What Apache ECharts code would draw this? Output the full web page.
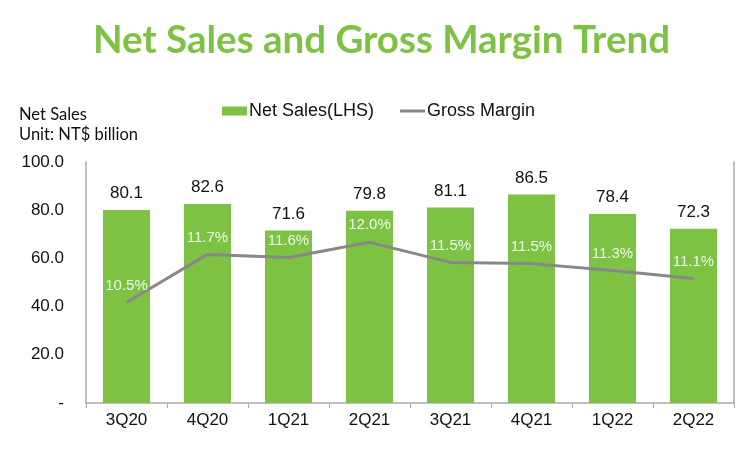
<!DOCTYPE html>
<html>
<head>
<meta charset="utf-8">
<script src="https://cdn.jsdelivr.net/npm/echarts@6/dist/echarts.min.js"></script>
<style>html,body{margin:0;padding:0;background:#fff}#c{width:750px;height:449px}</style>
</head>
<body>
<div id="c"></div>
<script>
const categories = ['3Q20','4Q20','1Q21','2Q21','3Q21','4Q21','1Q22','2Q22'];
const netSales = [80.1, 82.6, 71.6, 79.8, 81.1, 86.5, 78.4, 72.3];
const grossMargin = [10.5, 11.7, 11.62, 12.0, 11.5, 11.47, 11.3, 11.1];
const leftTicks = [0, 20, 40, 60, 80, 100];

const chart = echarts.init(document.getElementById('c'), null, {renderer: 'canvas'});
chart.setOption({
  animation: false,
  backgroundColor: '#fff',
  title: [{
    text: 'Net Sales and Gross Margin Trend',
    left: 88, top: 16,
    textStyle: {fontFamily: 'Lato', fontWeight: 'bold', fontSize: 38.5, color: '#7DC242'}
  }, {
    text: 'Net Sales\nUnit: NT$ billion',
    left: 14, top: 100,
    textStyle: {fontFamily: 'Lato', fontWeight: 'normal', fontSize: 16.5, lineHeight: 20, color: '#111'}
  }],
  legend: {
    top: 97, left: 217,
    itemGap: 26, itemWidth: 25, itemHeight: 9,
    textStyle: {fontFamily: 'Liberation Sans', fontSize: 18, color: '#111', padding: [0,0,0,-3]},
    data: [{name: 'Net Sales(LHS)', icon: 'rect'},
           {name: 'Gross Margin', icon: 'path://M0,0 L25,0 L25,3 L0,3 Z', itemStyle: {color: '#888'}}]
  },
  grid: {left: 86, right: 16, top: 162, bottom: 46},
  xAxis: {
    type: 'category', data: categories,
    axisLine: {lineStyle: {color: '#aaa', width: 1.5}},
    axisTick: {show: true, length: 5, lineStyle: {color: '#aaa'}},
    axisLabel: {fontFamily: 'Liberation Sans', fontSize: 17, color: '#111', margin: 9}
  },
  yAxis: [{
    type: 'value', min: 0, max: 100, interval: 20,
    axisLine: {show: true, lineStyle: {color: '#aaa', width: 1.5}},
    axisTick: {show: false},
    splitLine: {show: false},
    axisLabel: {fontFamily: 'Liberation Sans', fontSize: 17, color: '#111', margin: 22,
      formatter: v => v === 0 ? '-' : v.toFixed(1)}
  }, {
    type: 'value', min: 8, max: 14, interval: 1,
    axisLine: {show: true, lineStyle: {color: '#aaa', width: 1.5}},
    axisTick: {show: false}, axisLabel: {show: false}, splitLine: {show: false}
  }],
  series: [{
    name: 'Net Sales(LHS)', type: 'bar', data: netSales,
    barWidth: '58%',
    itemStyle: {color: '#7DC242'},
    label: {show: true, position: 'top', distance: 8, fontFamily: 'Liberation Sans', fontSize: 17, color: '#111',
      formatter: p => p.value.toFixed(1)}
  }, {
    name: 'Gross Margin', type: 'line', yAxisIndex: 1, data: grossMargin,
    symbol: 'circle', symbolSize: 1, showSymbol: true,
    lineStyle: {color: '#888', width: 3},
    itemStyle: {color: '#888'},
    label: {show: true, position: 'top', distance: 9, fontFamily: 'Liberation Sans', fontSize: 15, color: '#F2F6EE',
      formatter: p => p.value.toFixed(1) + '%'}
  }]
});
</script>
</body>
</html>
